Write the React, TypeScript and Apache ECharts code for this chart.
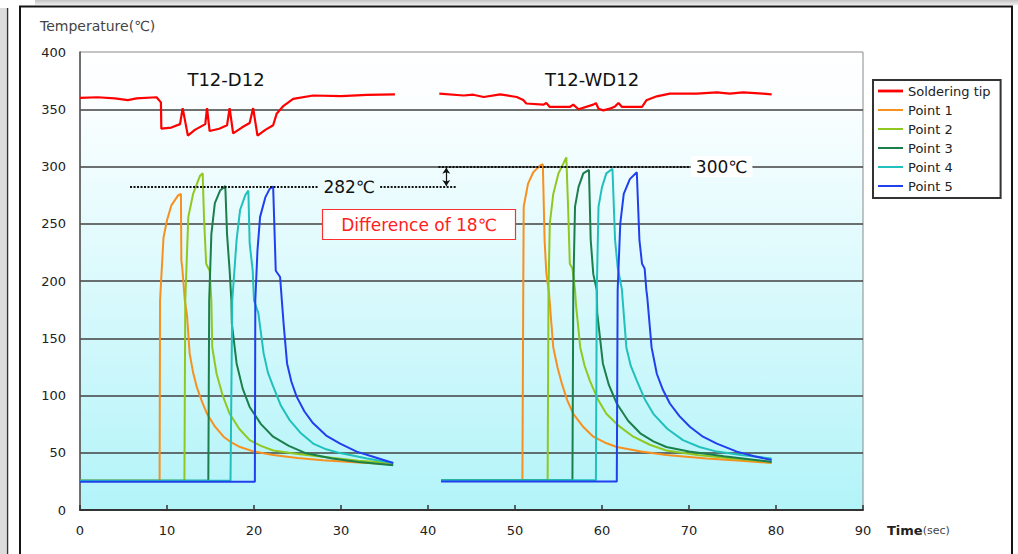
import React, { useEffect, useRef } from "react";
import * as echarts from "echarts";

// ---- Data (time in sec, temperature in °C) ----
const seriesNames = ["Soldering tip", "Point 1", "Point 2", "Point 3", "Point 4", "Point 5"];
const seriesColors = ["#FF0000", "#F7901E", "#90C820", "#1A7F4B", "#20C0BC", "#2040F0"];
const xTicks = [0, 10, 20, 30, 40, 50, 60, 70, 80, 90];
const yTicks = [0, 50, 100, 150, 200, 250, 300, 350, 400];

const tipD12 = [
  [0, 360], [2, 360.5], [4, 359.5], [5.5, 358], [6.5, 359.5], [8.8, 360.5], [9.3, 356], [9.35, 333],
  [10.5, 334], [11.5, 337], [11.8, 351], [12.4, 327], [13.2, 332], [14.4, 337], [14.6, 351], [14.9, 331],
  [16.0, 333], [16.9, 336], [17.2, 351], [17.6, 329], [18.6, 334], [19.5, 338], [19.9, 351], [20.4, 327],
  [21.3, 332], [22.2, 336], [22.6, 346], [23.4, 353], [24.5, 359], [26.8, 362], [30, 361.5], [33, 362.5], [36.2, 363],
];
const tipWD12 = [
  [41.3, 363.6], [44.1, 362], [45.2, 362.7], [46.4, 360.7], [48.3, 363], [50.2, 360.7], [50.95, 358], [51.3, 355],
  [53.25, 354], [53.6, 355.4], [54.0, 352], [56.3, 352], [56.7, 354], [57.3, 350], [59, 354], [59.3, 355.4],
  [59.6, 350.5], [60.15, 349], [60.9, 350.5], [61.5, 352.5], [61.9, 355.4], [62.3, 352], [64.6, 352], [65.1, 357.8],
  [66.3, 361.3], [67.8, 363.6], [70.9, 363.6], [73.2, 364.8], [74.7, 363.6], [76.2, 364.8], [78.5, 363.6], [79.5, 363],
];
const p1D12 = [
  [0, 25.6], [9.15, 25.6], [9.2, 183], [9.6, 238], [10.0, 253], [10.5, 266], [11.3, 275], [11.6, 276],
  [11.65, 218], [11.75, 212], [12.05, 183], [12.3, 170], [12.6, 137], [13.0, 120], [13.4, 108], [14.0, 95],
  [14.6, 84], [15.5, 73], [16.5, 64], [17.4, 59], [18.4, 55], [20, 51], [22.2, 48], [25, 45.5], [27.9, 43.5],
  [32, 41.5], [36, 40],
];
const p1WD12 = [
  [41.5, 26], [50.85, 26], [50.95, 192], [51.0, 265], [51.5, 285], [52.1, 295], [52.9, 301], [53.2, 302],
  [53.4, 236], [53.6, 207], [53.9, 190], [54.4, 142], [54.9, 124], [55.4, 110], [56.0, 96], [56.7, 84],
  [57.8, 73], [59, 64], [60.3, 59], [61.7, 55], [64.5, 51], [67.4, 48], [72, 45], [76, 43], [79.5, 41],
];
const p2D12 = [
  [0, 25.6], [12.0, 25.6], [12.1, 183], [12.45, 256], [13.0, 276], [13.8, 292], [14.1, 294], [14.25, 256],
  [14.5, 215], [14.9, 209], [15.1, 183], [15.2, 142], [15.7, 119], [16.4, 100], [17.2, 84], [18.3, 71],
  [19.5, 61], [20.8, 56], [22.2, 52], [25, 49], [27.9, 46.5], [32, 43], [36, 41],
];
const p2WD12 = [
  [41.5, 26], [53.75, 26], [53.85, 192], [54.0, 250], [54.4, 276], [55.0, 294], [55.9, 308], [56.1, 265],
  [56.3, 215], [56.6, 211], [56.9, 192], [57.0, 180], [57.5, 142], [58.0, 126], [58.6, 113], [59.5, 97],
  [60.5, 84], [62, 73], [63.6, 64], [65.5, 57], [67.4, 52], [71, 48], [75, 45], [79.5, 42],
];
const p3D12 = [
  [0, 25.6], [14.75, 25.6], [14.85, 183], [15.1, 241], [15.5, 268], [16.1, 279], [16.7, 283], [16.9, 241],
  [17.2, 209], [17.4, 183], [17.45, 163], [18.0, 128], [18.7, 106], [19.5, 90], [20.8, 75], [22.2, 64],
  [24, 56], [26, 49.5], [29, 45], [32, 42], [36, 39],
];
const p3WD12 = [
  [41.5, 26], [56.6, 26], [56.7, 192], [56.9, 265], [57.3, 282], [57.85, 294], [58.5, 297], [58.7, 236],
  [59.0, 206], [59.4, 192], [59.45, 172], [60.1, 128], [60.8, 109], [61.7, 93], [63, 78], [64.4, 67],
  [65.9, 60], [67.4, 55], [70, 51], [74, 47], [79.5, 42],
];
const p4D12 = [
  [0, 25.6], [17.3, 25.6], [17.5, 183], [18.0, 236], [18.4, 262], [19.0, 275], [19.35, 279], [19.5, 233],
  [19.85, 209], [20.0, 183], [20.5, 172], [21.1, 137], [21.6, 120], [22.2, 108], [23.1, 91], [24.1, 78.5],
  [25.4, 67], [26.8, 58], [28.3, 53], [29.9, 49.7], [33, 45], [36, 41],
];
const p4WD12 = [
  [41.5, 26], [59.3, 26], [59.4, 192], [59.6, 265], [60.0, 282], [60.5, 294], [61.2, 298], [61.5, 236],
  [61.8, 212], [62.3, 192], [62.35, 186], [62.8, 142], [63.3, 126], [64.0, 113], [64.9, 97], [65.9, 84],
  [67.5, 71], [69.3, 61], [71.2, 55], [73.2, 51], [76, 48], [79.5, 45],
];
const p5D12 = [
  [0, 24.7], [20.1, 24.7], [20.15, 183], [20.4, 227], [20.7, 256], [21.3, 273], [21.8, 280.5], [22.2, 282.5],
  [22.5, 209], [23.0, 203.5], [23.2, 183], [23.4, 163], [23.8, 128], [24.3, 112], [24.9, 99], [25.8, 86],
  [26.8, 75.7], [28.3, 65], [29.9, 58], [31.8, 51], [33.7, 46.5], [36, 41],
];
const p5WD12 = [
  [41.5, 25], [61.7, 25], [61.8, 192], [62.1, 250], [62.5, 276], [63.2, 289], [64.0, 295], [64.3, 236],
  [64.6, 215], [64.9, 211], [65.1, 192], [65.2, 186], [65.7, 142], [66.3, 119], [67.0, 105], [67.8, 93],
  [68.9, 82], [70.1, 72.7], [71.6, 64], [73.2, 58], [75.5, 51], [77.5, 47], [79.5, 43.6],
];

const d12Parts = [tipD12, p1D12, p2D12, p3D12, p4D12, p5D12];
const wd12Parts = [tipWD12, p1WD12, p2WD12, p3WD12, p4WD12, p5WD12];
const gapPoint = [38.5, null];

const peakD12 = 282;
const peakWD12 = 300;
const sectionTitles = ["T12-D12", "T12-WD12"];
const noteText = "Difference of 18℃";

const FONT = "'DejaVu Sans', 'Liberation Sans', Arial, sans-serif";
// legend line icons (invisible corners keep the 25x14 box)
const ICON_THICK = "path://M0,0 M25,14 M0,5.6 L25,5.6 L25,8.4 L0,8.4 Z";
const ICON_THIN = "path://M0,0 M25,14 M0,6 L25,6 L25,8 L0,8 Z";

export default function App() {
  const ref = useRef<HTMLDivElement>(null);

  useEffect(() => {
    if (!ref.current) return;
    const chart = echarts.init(ref.current, undefined, { renderer: "svg" });

    const dotted = { type: [2, 1.5], width: 2, color: "#111" };

    const series: any[] = seriesNames.map((name, i) => ({
      type: "line",
      name,
      data: [...d12Parts[i], gapPoint, ...wd12Parts[i]],
      symbol: "none",
      showSymbol: false,
      connectNulls: false,
      lineStyle: { width: i === 0 ? 2.2 : 2, color: seriesColors[i] },
      itemStyle: { color: seriesColors[i] },
      emphasis: { disabled: true },
      z: 3 + i,
    }));

    series[1].markLine = {
      silent: true,
      symbol: ["none", "none"],
      animation: false,
      label: { show: false },
      emphasis: { disabled: true },
      z: 20,
      data: [
        [
          { coord: [5.75, peakD12], lineStyle: dotted },
          {
            coord: [27.4, peakD12],
            label: {
              show: true,
              formatter: peakD12 + "℃",
              position: "end",
              distance: 5,
              color: "#111",
              fontSize: 17,
              fontFamily: FONT,
            },
          },
        ],
        [{ coord: [34.5, peakD12], lineStyle: dotted }, { coord: [43.2, peakD12] }],
        [
          { coord: [41.2, peakWD12], lineStyle: dotted },
          {
            coord: [70.1, peakWD12],
            label: {
              show: true,
              formatter: peakWD12 + "℃",
              position: "end",
              distance: 1,
              color: "#111",
              fontSize: 17,
              fontFamily: FONT,
              backgroundColor: "#ffffff",
              padding: [2, 5],
            },
          },
        ],
        [
          { coord: [42.1, peakWD12 - 1], symbol: "arrow", symbolSize: 6, lineStyle: { type: "solid", width: 1.2, color: "#111" } },
          { coord: [42.1, peakD12 + 1], symbol: "arrow", symbolSize: 6 },
        ],
      ],
    };

    const option: any = {
      animation: false,
      textStyle: { fontFamily: FONT },
      grid: {
        left: 80,
        right: 155,
        top: 52,
        bottom: 44,
        show: true,
        borderColor: "#8a8a8a",
        borderWidth: 1,
        backgroundColor: new echarts.graphic.LinearGradient(0, 0, 0, 1, [
          { offset: 0, color: "#ffffff" },
          { offset: 0.12, color: "#fafeff" },
          { offset: 1, color: "#b2f4f9" },
        ]),
      },
      legend: {
        orient: "vertical",
        left: 873,
        top: 80,
        padding: [4, 10, 5, 5],
        itemWidth: 25,
        itemHeight: 14,
        itemGap: 5,
        borderColor: "#333",
        borderWidth: 2,
        backgroundColor: "#ffffff",
        selectedMode: false,
        textStyle: { fontFamily: FONT, fontSize: 13, color: "#222" },
        data: seriesNames.map((name, i) => ({ name, icon: i === 0 ? ICON_THICK : ICON_THIN })),
      },
      xAxis: {
        type: "value",
        min: xTicks[0],
        max: xTicks[xTicks.length - 1],
        interval: 10,
        name: "{a|Time}{b|(sec)}",
        nameLocation: "end",
        nameGap: 24,
        nameTextStyle: {
          padding: [40, 0, 0, 0],
          rich: {
            a: { fontFamily: FONT, fontSize: 13, fontWeight: "bold", color: "#222" },
            b: { fontFamily: FONT, fontSize: 11, color: "#444" },
          },
        },
        axisLine: { show: true, lineStyle: { color: "#333", width: 2 } },
        axisTick: { show: true, inside: true, length: 5, lineStyle: { color: "#333", width: 1.5 } },
        axisLabel: { margin: 14, fontFamily: FONT, fontSize: 13, color: "#222" },
        splitLine: { show: false },
      },
      yAxis: {
        type: "value",
        min: yTicks[0],
        max: yTicks[yTicks.length - 1],
        interval: 50,
        name: "Temperature(℃)",
        nameLocation: "end",
        nameGap: 19,
        nameTextStyle: {
          align: "left",
          padding: [0, 0, 0, -40],
          fontFamily: FONT,
          fontSize: 14,
          color: "#444",
        },
        axisLine: { show: true, lineStyle: { color: "#555", width: 1.5 } },
        axisTick: { show: false },
        axisLabel: { margin: 14, fontFamily: FONT, fontSize: 13, color: "#222" },
        splitLine: {
          show: true,
          showMinLine: false,
          showMaxLine: false,
          lineStyle: { color: "#404040", width: 1.5 },
        },
      },
      graphic: [
        // page frame
        {
          type: "rect",
          z: 100,
          silent: true,
          shape: { x: 35, y: 0, width: 983, height: 5 },
          style: {
            fill: new echarts.graphic.LinearGradient(0, 0, 0, 1, [
              { offset: 0, color: "#c4c4c4" },
              { offset: 1, color: "#ededed" },
            ]),
          },
        },
        {
          type: "rect",
          z: 100,
          silent: true,
          shape: { x: 0, y: 8, width: 6, height: 546 },
          style: { fill: "#dcdcdc" },
        },
        {
          type: "line",
          z: 100,
          silent: true,
          shape: { x1: 7.5, y1: 8, x2: 7.5, y2: 554 },
          style: { stroke: "#333", lineWidth: 1.5 },
        },
        {
          type: "rect",
          z: 100,
          silent: true,
          shape: { x: 20, y: 6.5, width: 992, height: 560 },
          style: { fill: "none", stroke: "#151515", lineWidth: 2 },
        },
        // section titles
        {
          type: "text",
          z: 100,
          silent: true,
          x: 226,
          y: 79,
          style: {
            text: sectionTitles[0],
            fontFamily: FONT,
            fontSize: 18,
            fill: "#111",
            align: "center",
            verticalAlign: "middle",
          },
        },
        {
          type: "text",
          z: 100,
          silent: true,
          x: 592,
          y: 79,
          style: {
            text: sectionTitles[1],
            fontFamily: FONT,
            fontSize: 18,
            fill: "#111",
            align: "center",
            verticalAlign: "middle",
          },
        },
        // difference note
        {
          type: "rect",
          z: 100,
          silent: true,
          shape: { x: 322.5, y: 209.5, width: 193, height: 30 },
          style: { fill: "#ffffff", stroke: "#ff3030", lineWidth: 1.2 },
        },
        {
          type: "text",
          z: 101,
          silent: true,
          x: 419,
          y: 224.5,
          style: {
            text: noteText,
            fontFamily: FONT,
            fontSize: 17,
            fill: "#ff2020",
            align: "center",
            verticalAlign: "middle",
          },
        },
      ],
      series,
    };

    chart.setOption(option);
    return () => {
      chart.dispose();
    };
  }, []);

  return (
    <div
      style={{ position: "fixed", left: 0, top: 0, width: 1018, height: 554, background: "#ffffff", overflow: "hidden" }}
    >
      <div ref={ref} style={{ width: 1018, height: 554 }} />
    </div>
  );
}
